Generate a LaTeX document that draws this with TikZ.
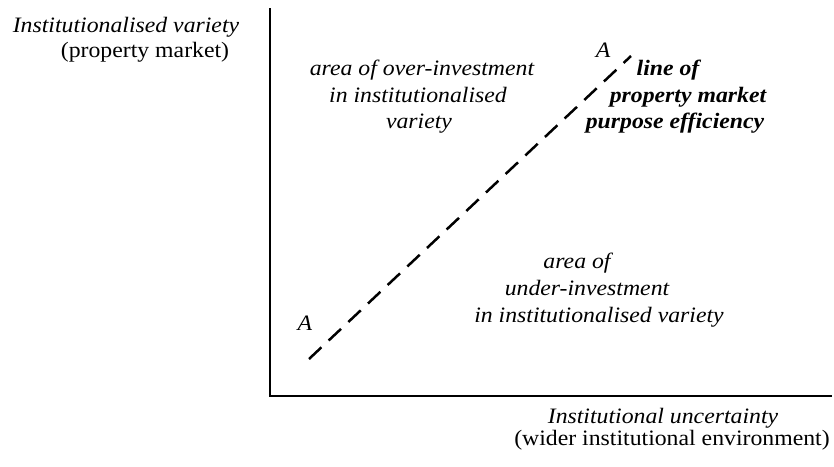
\documentclass[tikz,border=0pt]{standalone}
\usepackage{fontspec}
\setmainfont{Liberation Serif}[FakeStretch=1.08]

\begin{document}
\begin{tikzpicture}[x=1pt, y=-1pt,
    lbl/.style={anchor=base, inner sep=0pt, font=\fontsize{22}{25}\selectfont\itshape},
    lblrm/.style={lbl, font=\fontsize{22}{25}\selectfont\upshape},
    lblbf/.style={lbl, font=\fontsize{22}{25}\selectfont\bfseries\itshape}]
    \useasboundingbox (0,0) rectangle (834,466);
    % axes
    \coordinate (ytop) at (270,8);
    \coordinate (origin) at (270,396);
    \coordinate (xend) at (832,396);
    \draw[line width=2.5pt] (ytop) -- (origin) -- (xend);
    \node[lbl] (yname) at (126,32) {Institutionalised variety};
    \node[lblrm] (ymarket) at (145,57) {(property market)};
    \node[lbl] (xname) at (663,423) {Institutional uncertainty};
    \node[lblrm] (xenv) at (672,445) {(wider institutional environment)};
    % line A--A
    \coordinate (alow) at (309,359);
    \coordinate (ahigh) at (631,56);
    \draw[line width=2.5pt, dash pattern=on 17pt off 10pt] (alow) -- (ahigh);
    \node[lbl] (abot) at (305,330) {A};
    \node[lbl] (atop) at (603,57) {A};
    \node[lblbf] (eff1) at (668,75) {line of};
    \node[lblbf] (eff2) at (688,102) {property market};
    \node[lblbf] (eff3) at (675,128) {purpose efficiency};
    % areas
    \node[lbl] (over1) at (422,75) {area of over-investment};
    \node[lbl] (over2) at (418,102) {in institutionalised};
    \node[lbl] (over3) at (419,128) {variety};
    \node[lbl] (under1) at (577,268) {area of};
    \node[lbl] (under2) at (587,295) {under-investment};
    \node[lbl] (under3) at (599,322) {in institutionalised variety};
\end{tikzpicture}
\end{document}
